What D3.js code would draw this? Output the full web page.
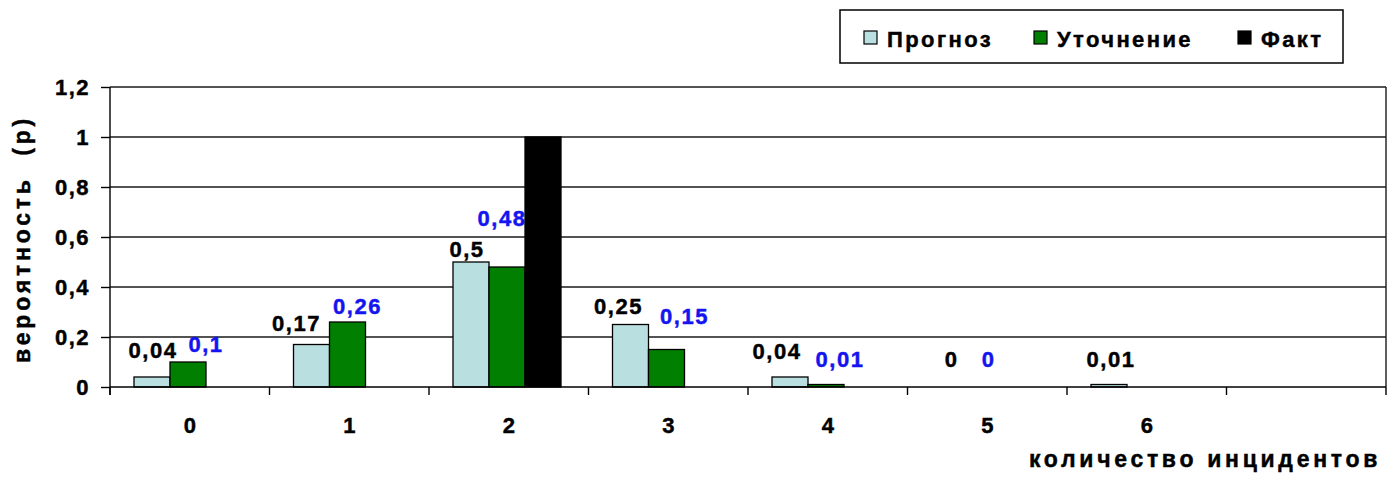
<!DOCTYPE html>
<html>
<head>
<meta charset="utf-8">
<script src="https://cdn.jsdelivr.net/npm/d3@7/dist/d3.min.js"></script>
<style>
  html, body { margin: 0; padding: 0; background: #fff; }
  svg { display: block; font-family: "Liberation Sans", Arial, sans-serif; font-weight: bold; }
  svg text { stroke-width: 0.45px; }
</style>
</head>
<body>
<svg id="chart" width="1398" height="484"></svg>
<script>
// Categories: number of incidents (last band left empty)
const categories = ["0", "1", "2", "3", "4", "5", "6", ""];
const seriesNames = ["Прогноз", "Уточнение", "Факт"];
const prognoz    = [0.04, 0.17, 0.5, 0.25, 0.04, 0, 0.01, null];
const utochnenie = [0.1, 0.26, 0.48, 0.15, 0.01, 0, null, null];
const fakt       = [null, null, 1, null, null, null, null, null];
const yTicks = [0, 0.2, 0.4, 0.6, 0.8, 1, 1.2];
const yTickLabels = ["0", "0,2", "0,4", "0,6", "0,8", "1", "1,2"];

// Hand-placed label nudges (px) relative to bar centre / bar top
const prognozLabelNudge = [[0, -19], [-16, -14], [-5, -5], [-13, -11], [-14, -18], [1, -20], [1, -18], null];
const utochLabelNudge   = [[17, -10], [9, -8], [-6, -41], [17, -26], [13, -18], [2, -20], null, null];

const colors = ["#B9DFE1", "#007F00", "#000000"];
const labelColors = ["#000000", "#1414F0", "#000000"];

const svg = d3.select("#chart");
const plot = { left: 110, right: 1386, top: 87, bottom: 387 };

const x0 = d3.scaleBand().domain(d3.range(categories.length)).range([plot.left, plot.right]).paddingInner(0).paddingOuter(0);
const x1 = d3.scaleBand().domain(d3.range(seriesNames.length)).range([24, 24 + 108]);
const y = d3.scaleLinear().domain([0, 1.2]).range([plot.bottom, plot.top]);

// Horizontal gridlines
svg.append("g").selectAll("line").data(yTicks.slice(1)).join("line")
  .attr("x1", plot.left).attr("x2", plot.right)
  .attr("y1", d => y(d)).attr("y2", d => y(d))
  .attr("stroke", "#1a1a1a").attr("stroke-width", 1.4);

// Right border of plot area
svg.append("line").attr("x1", plot.right).attr("x2", plot.right)
  .attr("y1", plot.top).attr("y2", plot.bottom)
  .attr("stroke", "#1a1a1a").attr("stroke-width", 1.4);

// Bars
const seriesData = [prognoz, utochnenie, fakt];
seriesData.forEach((vals, s) => {
  svg.append("g").selectAll("rect")
    .data(vals.map((v, i) => ({ v, i })).filter(d => d.v !== null && d.v > 0))
    .join("rect")
    .attr("x", d => x0(d.i) + x1(s))
    .attr("width", x1.bandwidth())
    .attr("y", d => y(d.v))
    .attr("height", d => y(0) - y(d.v))
    .attr("fill", colors[s])
    .attr("stroke", "#000").attr("stroke-width", 1.3);
});

// Y axis
const yAxis = d3.axisLeft(y).tickValues(yTicks).tickFormat((d, i) => yTickLabels[i]).tickSize(9).tickPadding(11);
const gy = svg.append("g").attr("transform", `translate(${plot.left},0)`).call(yAxis);
gy.select(".domain").attr("stroke", "#000").attr("stroke-width", 1.4).attr("d", `M0,${plot.top}V${plot.bottom + 8}`);
gy.selectAll(".tick line").attr("stroke", "#000").attr("stroke-width", 1.4);
gy.selectAll(".tick text").attr("font-size", 22).attr("font-weight", "bold")
  .attr("fill", "#000").attr("stroke", "#000")
  .attr("letter-spacing", 1.5)
  .attr("font-family", "Liberation Sans, Arial, sans-serif");

// X axis: ticks between categories, labels at category centres
const bounds = d3.range(categories.length + 1).map(i => i === categories.length ? plot.right : x0(i));
svg.append("line").attr("x1", plot.left).attr("x2", plot.right)
  .attr("y1", plot.bottom).attr("y2", plot.bottom)
  .attr("stroke", "#000").attr("stroke-width", 1.6);
svg.append("g").selectAll("line").data(bounds).join("line")
  .attr("x1", d => d).attr("x2", d => d)
  .attr("y1", plot.bottom).attr("y2", plot.bottom + 8)
  .attr("stroke", "#000").attr("stroke-width", 1.4);
svg.append("g").selectAll("text").data(categories).join("text")
  .attr("x", (d, i) => x0(i) + x0.bandwidth() / 2)
  .attr("y", plot.bottom + 46)
  .attr("text-anchor", "middle").attr("font-size", 22)
  .attr("fill", "#000").attr("stroke", "#000")
  .text(d => d);

// Value labels
function fmt(v) { return String(v).replace(".", ","); }
[[prognoz, prognozLabelNudge, 0], [utochnenie, utochLabelNudge, 1]].forEach(([vals, nudge, s]) => {
  svg.append("g").selectAll("text")
    .data(vals.map((v, i) => ({ v, i })).filter(d => d.v !== null))
    .join("text")
    .attr("x", d => x0(d.i) + x1(s) + x1.bandwidth() / 2 + nudge[d.i][0] + 1)
    .attr("y", d => y(d.v) + nudge[d.i][1])
    .attr("text-anchor", "middle").attr("font-size", 22).attr("letter-spacing", 1.5)
    .attr("fill", labelColors[s]).attr("stroke", labelColors[s])
    .text(d => fmt(d.v));
});

// Axis titles
svg.append("text").attr("transform", `translate(30,${(plot.top + plot.bottom) / 2 + 2}) rotate(-90)`)
  .attr("text-anchor", "middle").attr("font-size", 23)
  .attr("fill", "#000").attr("stroke", "#000")
  .attr("letter-spacing", 3.8)
  .attr("xml:space", "preserve").style("white-space", "pre")
  .text("вероятность  (р)");
svg.append("text").attr("x", 1381).attr("y", 467)
  .attr("text-anchor", "end").attr("font-size", 23)
  .attr("fill", "#000").attr("stroke", "#000")
  .attr("letter-spacing", 3.7)
  .text("количество инцидентов");

// Legend
const legend = svg.append("g");
legend.append("rect").attr("x", 840).attr("y", 10).attr("width", 503).attr("height", 53)
  .attr("fill", "#fff").attr("stroke", "#000").attr("stroke-width", 1.5);
const legendX = [864, 1034, 1238];
seriesNames.forEach((name, s) => {
  legend.append("rect").attr("x", legendX[s]).attr("y", 31).attr("width", 13).attr("height", 13)
    .attr("fill", colors[s]).attr("stroke", "#000").attr("stroke-width", 1.2);
  legend.append("text").attr("x", legendX[s] + 23).attr("y", 46.5)
    .attr("font-size", 22).attr("letter-spacing", 2.4)
    .attr("fill", "#000").attr("stroke", "#000").text(name);
});
</script>
</body>
</html>
